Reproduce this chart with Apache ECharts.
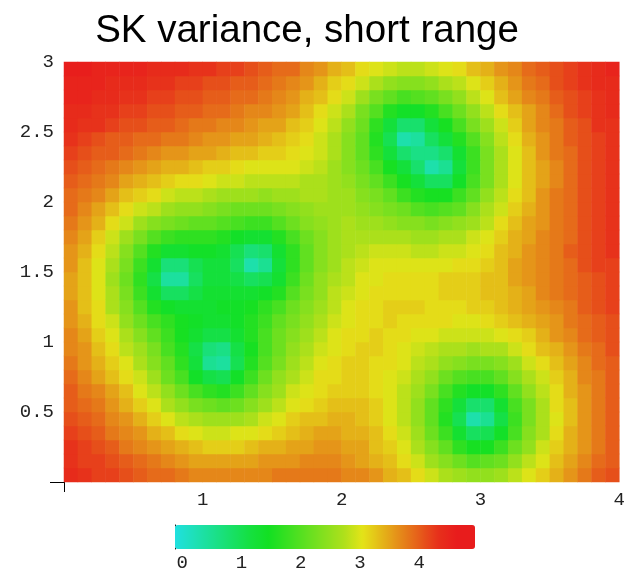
<!DOCTYPE html>
<html><head><meta charset="utf-8">
<script src="https://cdn.jsdelivr.net/npm/echarts@6/dist/echarts.min.js"></script>
<style>html,body{margin:0;padding:0;background:#fff}#c{width:628px;height:572px}</style>
</head><body><div id="c"></div>
<script>
// Cell centres of the variance grid (x: 0..4, y: 0..3, cells of 0.1)
const xCenters = ['0.05','0.15','0.25','0.35','0.45','0.55','0.65','0.75','0.85','0.95','1.05','1.15','1.25','1.35','1.45','1.55','1.65','1.75','1.85','1.95','2.05','2.15','2.25','2.35','2.45','2.55','2.65','2.75','2.85','2.95','3.05','3.15','3.25','3.35','3.45','3.55','3.65','3.75','3.85','3.95'];
const yCenters = ['0.05','0.15','0.25','0.35','0.45','0.55','0.65','0.75','0.85','0.95','1.05','1.15','1.25','1.35','1.45','1.55','1.65','1.75','1.85','1.95','2.05','2.15','2.25','2.35','2.45','2.55','2.65','2.75','2.85','2.95'];
// SK variance, one row per y centre (bottom row first)
const varianceRows = [
[4.4,4.3,4.2,4.2,4.1,4.0,3.9,3.9,3.8,3.7,3.7,3.7,3.7,3.7,3.7,3.8,3.8,3.8,3.8,3.8,3.7,3.7,3.6,3.4,3.3,3.1,2.9,2.7,2.6,2.5,2.5,2.6,2.8,3.0,3.2,3.4,3.6,3.8,4.0,4.1],
[4.3,4.2,4.2,4.1,4.0,3.9,3.8,3.7,3.6,3.5,3.5,3.5,3.5,3.5,3.6,3.6,3.6,3.7,3.7,3.7,3.6,3.5,3.4,3.3,3.1,2.9,2.6,2.4,2.2,2.0,2.1,2.2,2.5,2.8,3.0,3.3,3.5,3.7,3.9,4.0],
[4.3,4.2,4.1,4.0,3.8,3.7,3.6,3.5,3.4,3.3,3.2,3.2,3.2,3.3,3.4,3.4,3.5,3.5,3.6,3.6,3.5,3.5,3.3,3.2,3.0,2.7,2.4,2.1,1.7,1.5,1.5,1.8,2.2,2.5,2.9,3.2,3.4,3.6,3.8,4.0],
[4.2,4.1,4.0,3.8,3.7,3.6,3.4,3.3,3.1,3.0,2.9,2.9,3.0,3.0,3.1,3.2,3.3,3.4,3.5,3.5,3.4,3.4,3.3,3.1,2.9,2.6,2.2,1.8,1.3,0.9,1.0,1.4,1.9,2.4,2.7,3.1,3.4,3.6,3.8,4.0],
[4.1,4.0,3.9,3.7,3.6,3.4,3.2,3.0,2.8,2.7,2.6,2.6,2.6,2.7,2.9,3.0,3.2,3.3,3.3,3.4,3.4,3.3,3.2,3.0,2.8,2.5,2.1,1.6,1.0,0.3,0.5,1.1,1.8,2.3,2.7,3.0,3.3,3.6,3.8,4.0],
[4.0,3.9,3.8,3.6,3.4,3.2,3.0,2.7,2.5,2.3,2.2,2.1,2.2,2.4,2.6,2.8,3.0,3.1,3.2,3.3,3.3,3.3,3.2,3.0,2.8,2.5,2.1,1.7,1.2,0.8,0.8,1.3,1.9,2.3,2.7,3.1,3.3,3.6,3.8,4.0],
[4.0,3.8,3.7,3.5,3.3,3.0,2.8,2.5,2.2,1.9,1.7,1.6,1.8,2.1,2.4,2.6,2.9,3.0,3.1,3.2,3.2,3.2,3.1,3.0,2.8,2.6,2.3,1.9,1.6,1.4,1.4,1.7,2.1,2.5,2.8,3.1,3.4,3.6,3.8,4.0],
[3.9,3.7,3.5,3.3,3.1,2.9,2.6,2.2,1.9,1.4,1.1,1.0,1.4,1.8,2.2,2.5,2.7,2.9,3.1,3.1,3.2,3.2,3.1,3.0,2.9,2.7,2.5,2.2,2.0,1.9,1.9,2.1,2.4,2.7,2.9,3.2,3.4,3.7,3.8,4.0],
[3.8,3.6,3.4,3.2,3.0,2.7,2.4,2.1,1.7,1.2,0.5,0.4,1.0,1.6,2.0,2.3,2.6,2.8,3.0,3.1,3.2,3.2,3.1,3.1,3.0,2.8,2.7,2.5,2.4,2.3,2.3,2.4,2.6,2.9,3.1,3.3,3.5,3.7,3.9,4.0],
[3.7,3.6,3.3,3.1,2.8,2.6,2.3,1.9,1.6,1.1,0.7,0.6,1.1,1.5,1.9,2.2,2.5,2.7,2.9,3.0,3.1,3.2,3.2,3.1,3.0,2.9,2.8,2.7,2.7,2.6,2.7,2.7,2.9,3.1,3.3,3.4,3.6,3.8,3.9,4.1],
[3.7,3.5,3.2,3.0,2.7,2.4,2.1,1.8,1.5,1.3,1.1,1.1,1.3,1.6,1.9,2.2,2.4,2.6,2.8,3.0,3.1,3.1,3.2,3.1,3.1,3.0,3.0,2.9,2.9,2.9,2.9,3.0,3.1,3.2,3.4,3.6,3.7,3.9,4.0,4.1],
[3.6,3.4,3.1,2.9,2.5,2.2,1.9,1.7,1.5,1.4,1.3,1.3,1.4,1.6,1.8,2.1,2.3,2.5,2.7,2.9,3.0,3.1,3.1,3.2,3.1,3.1,3.1,3.1,3.0,3.0,3.1,3.2,3.3,3.4,3.5,3.6,3.8,3.9,4.0,4.1],
[3.6,3.3,3.1,2.7,2.4,2.0,1.6,1.4,1.3,1.3,1.3,1.4,1.4,1.5,1.7,1.9,2.2,2.4,2.6,2.8,3.0,3.1,3.1,3.2,3.2,3.2,3.1,3.1,3.1,3.2,3.2,3.3,3.4,3.5,3.6,3.7,3.8,4.0,4.1,4.2],
[3.5,3.3,3.0,2.7,2.3,1.8,1.3,0.9,0.9,1.1,1.3,1.3,1.3,1.3,1.4,1.6,2.0,2.3,2.5,2.8,2.9,3.0,3.1,3.1,3.1,3.1,3.1,3.2,3.2,3.2,3.3,3.3,3.4,3.5,3.7,3.8,3.9,4.0,4.1,4.2],
[3.5,3.3,3.0,2.6,2.2,1.7,1.1,0.4,0.4,0.9,1.2,1.2,1.1,0.9,1.0,1.3,1.8,2.2,2.5,2.7,2.8,3.0,3.0,3.1,3.1,3.1,3.1,3.2,3.2,3.2,3.3,3.3,3.5,3.6,3.7,3.8,3.9,4.0,4.1,4.2],
[3.6,3.3,3.0,2.7,2.3,1.8,1.3,0.7,0.7,1.0,1.2,1.2,0.9,0.3,0.5,1.2,1.7,2.1,2.4,2.6,2.8,2.9,3.0,3.0,3.0,3.0,3.0,3.0,3.1,3.1,3.2,3.3,3.5,3.6,3.7,3.8,3.9,4.1,4.2,4.2],
[3.6,3.4,3.1,2.8,2.4,2.0,1.6,1.3,1.3,1.4,1.4,1.3,1.0,0.7,0.8,1.3,1.7,2.1,2.4,2.6,2.7,2.8,2.9,2.9,2.9,2.8,2.8,2.9,2.9,3.0,3.1,3.3,3.4,3.6,3.7,3.8,4.0,4.1,4.2,4.3],
[3.7,3.5,3.2,2.9,2.6,2.3,2.0,1.8,1.7,1.7,1.7,1.6,1.4,1.3,1.3,1.6,1.9,2.2,2.4,2.6,2.7,2.7,2.7,2.7,2.7,2.6,2.6,2.7,2.7,2.9,3.0,3.2,3.4,3.5,3.7,3.8,3.9,4.1,4.2,4.3],
[3.8,3.6,3.4,3.1,2.9,2.6,2.4,2.3,2.2,2.1,2.1,2.0,1.9,1.8,1.8,2.0,2.2,2.4,2.5,2.6,2.7,2.6,2.6,2.5,2.4,2.4,2.3,2.4,2.5,2.6,2.8,3.1,3.3,3.5,3.6,3.8,3.9,4.1,4.2,4.3],
[3.9,3.7,3.5,3.3,3.1,2.9,2.8,2.6,2.5,2.5,2.4,2.3,2.2,2.2,2.2,2.3,2.4,2.5,2.6,2.6,2.6,2.5,2.4,2.3,2.2,2.0,1.9,2.0,2.1,2.4,2.7,2.9,3.2,3.4,3.6,3.8,3.9,4.1,4.2,4.3],
[3.9,3.8,3.7,3.5,3.3,3.2,3.1,2.9,2.8,2.8,2.7,2.6,2.6,2.6,2.5,2.6,2.6,2.7,2.7,2.6,2.6,2.4,2.3,2.1,1.8,1.6,1.5,1.5,1.8,2.1,2.5,2.8,3.1,3.3,3.6,3.8,3.9,4.1,4.2,4.3],
[4.0,3.9,3.8,3.7,3.5,3.4,3.3,3.2,3.1,3.1,3.0,2.9,2.9,2.8,2.8,2.8,2.8,2.7,2.7,2.6,2.5,2.3,2.1,1.8,1.5,1.2,0.9,0.9,1.4,1.9,2.3,2.7,3.0,3.3,3.5,3.7,3.9,4.1,4.2,4.3],
[4.1,4.0,3.9,3.8,3.7,3.6,3.5,3.4,3.4,3.3,3.2,3.2,3.1,3.0,3.0,3.0,3.0,2.9,2.8,2.6,2.4,2.2,1.9,1.5,1.2,0.8,0.3,0.5,1.2,1.8,2.3,2.7,3.0,3.3,3.5,3.7,3.9,4.1,4.2,4.3],
[4.2,4.1,4.0,4.0,3.9,3.8,3.7,3.6,3.6,3.5,3.5,3.4,3.3,3.3,3.2,3.2,3.1,3.0,2.9,2.7,2.4,2.1,1.7,1.2,0.8,0.6,0.6,0.8,1.3,1.8,2.3,2.7,3.0,3.3,3.6,3.8,3.9,4.1,4.2,4.3],
[4.3,4.2,4.1,4.0,4.0,3.9,3.9,3.8,3.8,3.7,3.6,3.6,3.5,3.5,3.4,3.3,3.2,3.1,2.9,2.7,2.4,2.1,1.6,1.0,0.3,0.4,0.9,1.2,1.6,2.0,2.4,2.8,3.1,3.4,3.6,3.8,4.0,4.1,4.2,4.3],
[4.4,4.3,4.3,4.2,4.1,4.1,4.0,4.0,3.9,3.8,3.8,3.7,3.7,3.6,3.5,3.5,3.3,3.2,3.0,2.8,2.5,2.2,1.7,1.2,0.8,0.8,1.2,1.5,1.9,2.3,2.6,2.9,3.2,3.5,3.7,3.8,4.0,4.1,4.3,4.3],
[4.4,4.4,4.3,4.3,4.2,4.2,4.1,4.1,4.0,4.0,3.9,3.9,3.8,3.7,3.7,3.6,3.5,3.3,3.1,2.9,2.7,2.3,2.0,1.6,1.4,1.4,1.6,1.9,2.2,2.5,2.8,3.1,3.3,3.5,3.7,3.9,4.1,4.2,4.3,4.4],
[4.5,4.5,4.4,4.4,4.3,4.3,4.2,4.2,4.1,4.1,4.0,4.0,3.9,3.9,3.8,3.7,3.6,3.4,3.3,3.1,2.9,2.6,2.3,2.1,1.9,2.0,2.1,2.3,2.5,2.8,3.0,3.3,3.5,3.7,3.8,4.0,4.1,4.2,4.3,4.4],
[4.5,4.5,4.5,4.4,4.4,4.4,4.3,4.3,4.2,4.2,4.1,4.1,4.0,4.0,3.9,3.8,3.7,3.6,3.4,3.2,3.1,2.9,2.7,2.5,2.4,2.4,2.5,2.7,2.8,3.0,3.2,3.4,3.6,3.8,3.9,4.1,4.2,4.3,4.4,4.4],
[4.6,4.6,4.5,4.5,4.5,4.5,4.4,4.4,4.4,4.3,4.3,4.2,4.2,4.1,4.0,3.9,3.9,3.7,3.6,3.4,3.3,3.1,3.0,2.9,2.8,2.8,2.9,3.0,3.1,3.3,3.4,3.6,3.7,3.9,4.0,4.1,4.2,4.3,4.4,4.5]
];
const xTickLabels = [1, 2, 3, 4];
const yTickLabels = [0.5, 1, 1.5, 2, 2.5, 3];
const barLabels = [0, 1, 2, 3, 4];
const barRange = [-0.12, 4.94];
const rampColors = ['#20e0e0','#1ee0b8','#1be090','#18e068','#15e040','#12e022','#39e021','#60e020','#87e01e','#aee01b','#e4e418','#e4b718','#e58a19','#e65e1a','#e7311b','#e81c1c','#e81c1c'];

const cells = [];
varianceRows.forEach((row, j) => row.forEach((v, i) => cells.push([i, j, v])));
const barTicks = [];
for (let k = 0; k <= 32; k++) barTicks.push(+(k * 0.15).toFixed(2));

const mono = 'Liberation Mono';
const chart = echarts.init(document.getElementById('c'), null, {renderer: 'canvas'});
chart.setOption({
  animation: false,
  title: {text: 'SK variance, short range', left: 302, textAlign: 'center', top: 7,
    textStyle: {fontFamily: 'Liberation Sans', fontSize: 38.5, fontWeight: 'normal', color: '#000'}},
  grid: [{left: 64, top: 62, width: 560, height: 420}, {left: 175, top: 525, width: 300, height: 24}],
  xAxis: [
    {type: 'category', gridIndex: 0, data: xCenters, show: false},
    {type: 'value', gridIndex: 0, min: 0, max: 4, interval: 1, position: 'bottom',
      axisLine: {show: false, onZero: false}, splitLine: {show: false},
      axisTick: {show: true, customValues: [0], length: 10, lineStyle: {color: '#000'}},
      axisLabel: {customValues: xTickLabels, margin: 8, fontFamily: mono, fontSize: 19, color: '#222'}},
    {type: 'value', gridIndex: 1, min: barRange[0], max: barRange[1], position: 'bottom',
      axisLine: {show: false}, splitLine: {show: false},
      axisTick: {customValues: barTicks, inside: true, length: 2, lineStyle: {color: '#666'}},
      axisLabel: {customValues: barLabels, margin: 4, fontFamily: mono, fontSize: 19, color: '#222'}}
  ],
  yAxis: [
    {type: 'category', gridIndex: 0, data: yCenters, show: false},
    {type: 'value', gridIndex: 0, min: 0, max: 3, interval: 0.5, position: 'left',
      axisLine: {show: false, onZero: false}, splitLine: {show: false},
      axisTick: {show: true, customValues: [0], length: 14, lineStyle: {color: '#000'}},
      axisLabel: {customValues: yTickLabels, margin: 10, fontFamily: mono, fontSize: 19, color: '#222'}},
    {type: 'value', gridIndex: 1, min: 0, max: 1, axisLine: {show: true, onZero: false, lineStyle: {color: '#000'}},
      axisTick: {show: false}, axisLabel: {show: false}, splitLine: {show: false}}
  ],
  visualMap: {type: 'continuous', min: barRange[0], max: barRange[1], seriesIndex: 0, orient: 'horizontal',
    left: 175, top: 525, itemWidth: 24, itemHeight: 300, padding: 0, calculable: false, hoverLink: false,
    inRange: {color: rampColors}},
  series: [{type: 'heatmap', xAxisIndex: 0, yAxisIndex: 0, data: cells, itemStyle: {borderWidth: 0}}]
});
</script></body></html>
